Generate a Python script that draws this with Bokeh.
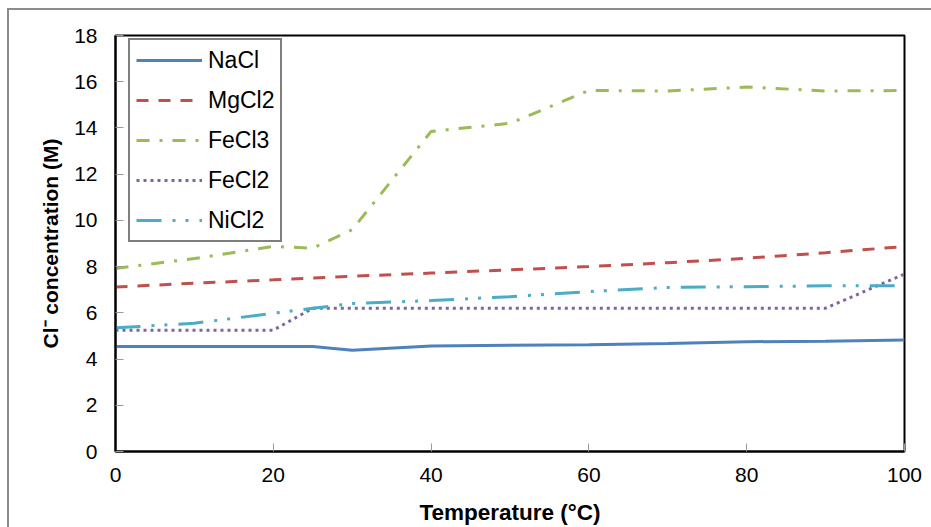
from bokeh.plotting import figure
from bokeh.models import Range1d, FixedTicker, Legend, LegendItem
from bokeh.embed import file_html
from bokeh.resources import INLINE

# Chloride concentration versus temperature for five chloride salts
temperature = [0, 10, 20, 25, 30, 40, 50, 60, 70, 80, 90, 100]
nacl = [4.54, 4.54, 4.54, 4.54, 4.38, 4.56, 4.60, 4.62, 4.67, 4.75, 4.77, 4.82]
mgcl2 = [7.12, 7.28, 7.43, 7.51, 7.58, 7.72, 7.86, 8.00, 8.17, 8.36, 8.60, 8.87]
fecl3 = [7.92, 8.35, 8.87, 8.80, 9.60, 13.85, 14.20, 15.62, 15.60, 15.77, 15.60, 15.62]
fecl2 = [5.25, 5.25, 5.25, 6.20, 6.20, 6.20, 6.20, 6.20, 6.20, 6.20, 6.20, 7.68]
nicl2 = [5.35, 5.55, 5.98, 6.20, 6.40, 6.53, 6.70, 6.92, 7.10, 7.13, 7.17, 7.17]

series_names = ["NaCl", "MgCl2", "FeCl3", "FeCl2", "NiCl2"]
x_ticks = [0, 20, 40, 60, 80, 100]
y_ticks = [0, 2, 4, 6, 8, 10, 12, 14, 16, 18]

FONT = "Liberation Sans"

p = figure(
    frame_width=789, frame_height=416,
    min_border_left=106, min_border_right=27,
    min_border_top=25, min_border_bottom=76,
    x_range=Range1d(0, 100), y_range=Range1d(0, 18),
    output_backend="svg", toolbar_location=None,
)
# grey chart-area border along the left and top edges
p.styles = {
    "margin-left": "7px",
    "margin-top": "8px",
    "border-left": "2px solid #8c8c8c",
    "border-top": "2px solid #8c8c8c",
}
p.background_fill_color = "white"
p.border_fill_color = "white"
p.outline_line_color = "black"
p.outline_line_width = 2
p.xgrid.visible = False
p.ygrid.visible = False

for ax, ticks in ((p.xaxis[0], x_ticks), (p.yaxis[0], y_ticks)):
    ax.ticker = FixedTicker(ticks=ticks)
    ax.minor_tick_line_color = None
    ax.major_tick_in = 8
    ax.major_tick_out = 0
    ax.major_tick_line_color = "#9a9a9a"
    ax.major_tick_line_width = 1
    ax.axis_line_color = "black"
    ax.axis_line_width = 2
    ax.major_label_text_font = FONT
    ax.major_label_text_font_size = "21px"
    ax.major_label_text_color = "black"
    ax.axis_label_text_font = FONT
    ax.axis_label_text_font_style = "bold"
    ax.axis_label_text_color = "black"

p.xaxis.axis_label = "Temperature (°C)"
p.yaxis.axis_label = "Cl⁻ concentration (M)"
p.xaxis.axis_label_text_font_size = "22.5px"
p.yaxis.axis_label_text_font_size = "21px"
p.xaxis.major_label_standoff = 16
p.xaxis.axis_label_standoff = 15
p.yaxis.major_label_standoff = 18
p.yaxis.axis_label_standoff = 9

styles = [
    dict(color="#4F81BD", dash="solid"),
    dict(color="#C0504D", dash="12 10"),
    dict(color="#9BBB59", dash="13 10 3 10"),
    dict(color="#8064A2", dash="3 4"),
    dict(color="#4BACC6", dash="25 11 3 10 3 11"),
]
values = [nacl, mgcl2, fecl3, fecl2, nicl2]

items = []
for name, ys, st in zip(series_names, values, styles):
    r = p.line(temperature, ys, line_color=st["color"], line_width=3,
               line_dash=st["dash"])
    items.append(LegendItem(label=name, renderers=[r]))

legend = Legend(
    items=items, location=(13, 209),
    glyph_width=66, glyph_height=28, label_height=28,
    label_standoff=6, spacing=12, padding=6, margin=0,
    label_text_font=FONT, label_text_font_size="23px",
    label_text_color="black",
    border_line_color="black", border_line_width=2,
    background_fill_color="white", background_fill_alpha=1.0,
)
p.add_layout(legend, "center")

open("out.html", "w").write(file_html(p, INLINE))
